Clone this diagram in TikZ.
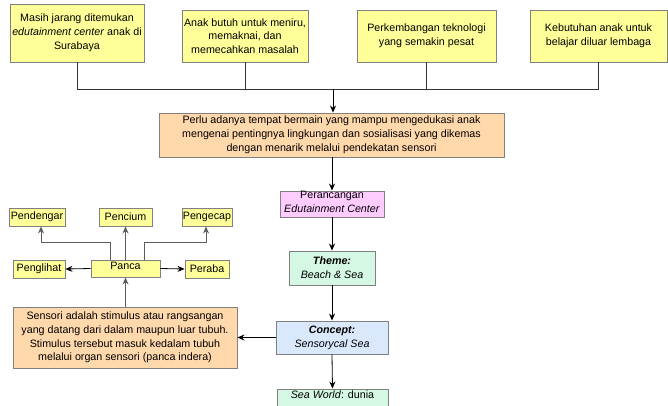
\documentclass[tikz,border=0pt]{standalone}
\usepackage{fontspec}
\setmainfont{Liberation Sans}
\usetikzlibrary{arrows.meta}
\definecolor{yel}{HTML}{FFFF99}
\definecolor{peach}{HTML}{FFD8AC}
\definecolor{pinkb}{HTML}{FFCCFF}
\definecolor{mint}{HTML}{D4F8E4}
\definecolor{lblue}{HTML}{DAE8FC}
\definecolor{bord}{HTML}{808080}
\definecolor{conn}{HTML}{333333}
\tikzset{
  box/.style={draw=bord, line width=0.9pt, inner sep=0pt, align=center,
    font=\fontsize{10.7}{13.8}\selectfont},
  yb/.style={box, fill=yel},
  pb/.style={box, fill=peach},
  link/.style={draw=conn, line width=0.8pt},
  arr/.style={draw=black, line width=0.8pt, -{Stealth[length=7pt,width=6pt]}},
  garr/.style={draw=conn!80, line width=0.9pt, -{Stealth[length=7pt,width=6pt]}},
}
\begin{document}
\begin{tikzpicture}[x=1pt,y=-1pt]
\useasboundingbox (0,0) rectangle (668,405);
% top boxes
\node[yb, minimum width=134, minimum height=58] (b1) at (77,33) {Masih jarang ditemukan\\\textit{edutainment center} anak di\\Surabaya};
\node[yb, minimum width=126, minimum height=52] (b2) at (245,36) {Anak butuh untuk meniru,\\memaknai, dan\\memecahkan masalah};
\node[yb, minimum width=139, minimum height=52] (b3) at (426.5,36) {Perkembangan teknologi\\yang semakin pesat};
\node[yb, minimum width=137, minimum height=52] (b4) at (598.5,36) {Kebutuhan anak untuk\\belajar diluar lembaga};
% central column
\node[pb, minimum width=345, minimum height=44] (b5) at (331.5,135) {Perlu adanya tempat bermain yang mampu mengedukasi anak\\mengenai pentingnya lingkungan dan sosialisasi yang dikemas\\dengan menarik melalui pendekatan sensori};
\node[box, fill=pinkb, minimum width=104, minimum height=26] (b6) at (332,204) {};
\node[font=\fontsize{10.7}{13.8}\selectfont, align=center, inner sep=0pt] (b6t) at (332,201.5) {Perancangan\\\textit{Edutainment Center}};
\node[box, fill=mint, minimum width=86, minimum height=34] (th) at (332,268) {\textbf{\textit{Theme:}}\\\textit{Beach \& Sea}};
\node[box, fill=lblue, minimum width=112, minimum height=33] (co) at (332,337.5) {\textbf{\textit{Concept:}}\\\textit{Sensorycal Sea}};
\node[box, fill=mint, minimum width=111, minimum height=36] (sw) at (332.5,407) {};
\node[font=\fontsize{10.7}{13.8}\selectfont, inner sep=0pt] (swt) at (332.5,395) {\textit{Sea World}: dunia};
% left part
\node[pb, minimum width=224, minimum height=61] (se) at (125,337.5) {Sensori adalah stimulus atau rangsangan\\yang datang dari dalam maupun luar tubuh.\\Stimulus tersebut masuk kedalam tubuh\\melalui organ sensori (panca indera)};
\node[yb, minimum width=69, minimum height=17] (pa) at (125.5,268.5) {};
\node[font=\fontsize{10.7}{12}\selectfont, inner sep=0pt] (pat) at (125.5,266) {Panca};
\node[yb, minimum width=52, minimum height=18] (pl) at (39,269) {Penglihat};
\node[yb, minimum width=44, minimum height=18] (pr) at (207,269) {Peraba};
\node[yb, minimum width=56, minimum height=18] (pd) at (37,217) {Pendengar};
\node[yb, minimum width=53, minimum height=18] (pc) at (125.5,217) {Pencium};
\node[yb, minimum width=50, minimum height=18] (pg) at (207,217) {Pengecap};
% top connectors
\coordinate (j) at (333,89);
\draw[link] (b1.south) -- (b1.south |- j) -- (b4.south |- j) -- (b4.south);
\draw[link] (b2.south) -- (b2.south |- j);
\draw[link] (b3.south) -- (b3.south |- j);
\draw[arr] (j) -- (j |- b5.north);
% central arrows
\draw[arr] (b5.south -| b6.north) -- (b6.north);
\draw[arr] (b6.south) -- (th.north);
\draw[arr] (th.south) -- (co.north);
\draw[arr] (co.south) -- (sw.north);
\draw[arr] (co.west) -- (co.west -| se.east);
% panca
\draw[garr] (se.north -| pa.south) -- (pa.south);
\draw[arr] (pa.west) -- (pl.east);
\draw[arr] (pa.east) -- (pr.west);
\draw[garr] (pa.north) -- (pc.south);
\draw[garr] ([xshift=-15.5pt]pa.north) -- ++(0,-17) -| ([xshift=4pt]pd.south);
\draw[garr] ([xshift=18.5pt]pa.north) -- ++(0,-17) -| ([xshift=-1pt]pg.south);
\end{tikzpicture}
\end{document}
